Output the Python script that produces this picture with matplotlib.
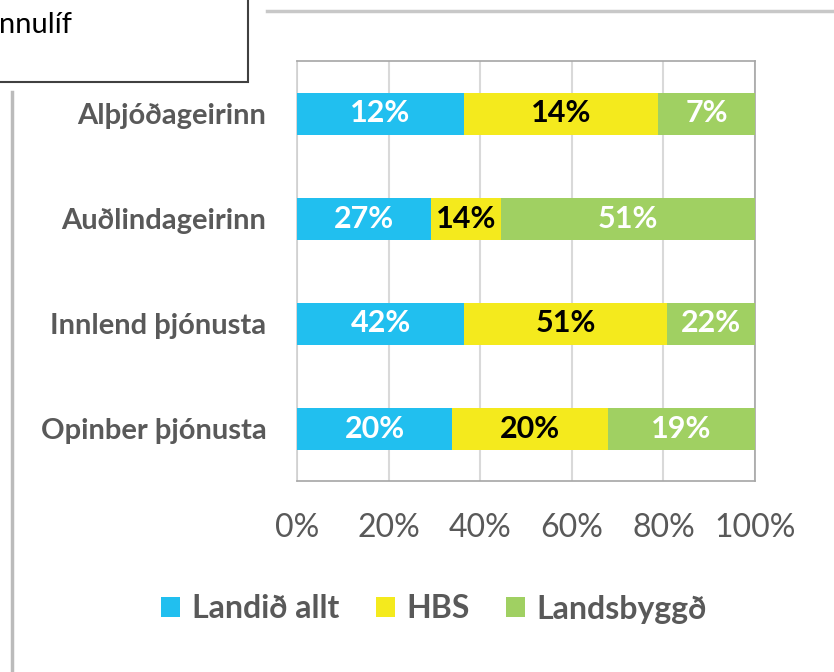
import matplotlib.pyplot as plt
from matplotlib.lines import Line2D
from matplotlib.patches import Rectangle, Patch

plt.rcParams["font.family"] = ["Lato", "DejaVu Sans"]

categories = ["Alþjóðageirinn", "Auðlindageirinn", "Innlend þjónusta", "Opinber þjónusta"]
series_names = ["Landið allt", "HBS", "Landsbyggð"]
landid_allt = [12, 27, 42, 20]
hbs = [14, 14, 51, 20]
landsbyggd = [7, 51, 22, 19]
xtick_labels = ["0%", "20%", "40%", "60%", "80%", "100%"]

colors = ["#21BFEF", "#F4EA1D", "#A0D062"]
label_colors = ["white", "black", "white"]

W, H = 834, 672
fig = plt.figure(figsize=(W / 100, H / 100), dpi=100)
ax = fig.add_axes([297 / W, 1 - 481 / H, (755 - 297) / W, (481 - 61) / H])

series = [landid_allt, hbs, landsbyggd]
totals = [sum(v) for v in zip(*series)]
left = [0.0] * len(categories)
for name, vals, col, lcol in zip(series_names, series, colors, label_colors):
    widths = [v / t for v, t in zip(vals, totals)]
    ax.barh(range(len(categories)), widths, left=left, height=0.4,
            color=col, label=name, zorder=3)
    for i, (v, w, l) in enumerate(zip(vals, widths, left)):
        ax.text(l + w / 2, i, f"{v}%", ha="center", va="center",
                fontsize=22, fontweight="bold", color=lcol, zorder=4)
    left = [l + w for l, w in zip(left, widths)]

ax.set_xlim(0, 1)
ax.set_ylim(3.5, -0.5)
ax.set_xticks([i / 5 for i in range(6)])
ax.set_xticklabels(xtick_labels, fontsize=23, color="#595959")
ax.set_yticks(range(len(categories)))
ax.set_yticklabels(categories, fontsize=21, fontweight="bold", color="#595959")
ax.tick_params(axis="x", length=0, pad=23)
ax.tick_params(axis="y", length=0, pad=22)
ax.grid(axis="x", color="#d9d9d9", linewidth=1.5, zorder=0)
for side in ["top", "right", "bottom"]:
    ax.spines[side].set_color("#a6a6a6")
    ax.spines[side].set_linewidth(1.2)
ax.spines["left"].set_color("#d0d0d0")
ax.spines["left"].set_linewidth(1.2)

handles = [Patch(facecolor=c, edgecolor="none") for c in colors]
fig.legend(handles, series_names, loc="center", bbox_to_anchor=(434 / W, 1 - 609 / H),
           ncol=3, frameon=False, handlelength=0.6, handleheight=0.6,
           handletextpad=0.35, columnspacing=1.15,
           prop={"size": 23, "weight": "bold"}, labelcolor="#595959")

# page decorations around the chart
fig.add_artist(Rectangle((-10 / W, 1 - 82 / H), 258 / W, 100 / H,
                         transform=fig.transFigure, fill=False,
                         edgecolor="#404040", linewidth=1.5))
fig.text(-1 / W, 1 - 25 / H, "nnulíf", fontsize=21, color="black",
         ha="left", va="center")
fig.add_artist(Line2D([267 / W, 1], [1 - 11 / H, 1 - 11 / H],
                      transform=fig.transFigure, color="#c8c8c8", linewidth=2.5))
fig.add_artist(Line2D([12 / W, 12 / W], [1 - 92 / H, 0],
                      transform=fig.transFigure, color="#bbbbbb", linewidth=2.5))

fig.savefig("out.png", dpi=100)
